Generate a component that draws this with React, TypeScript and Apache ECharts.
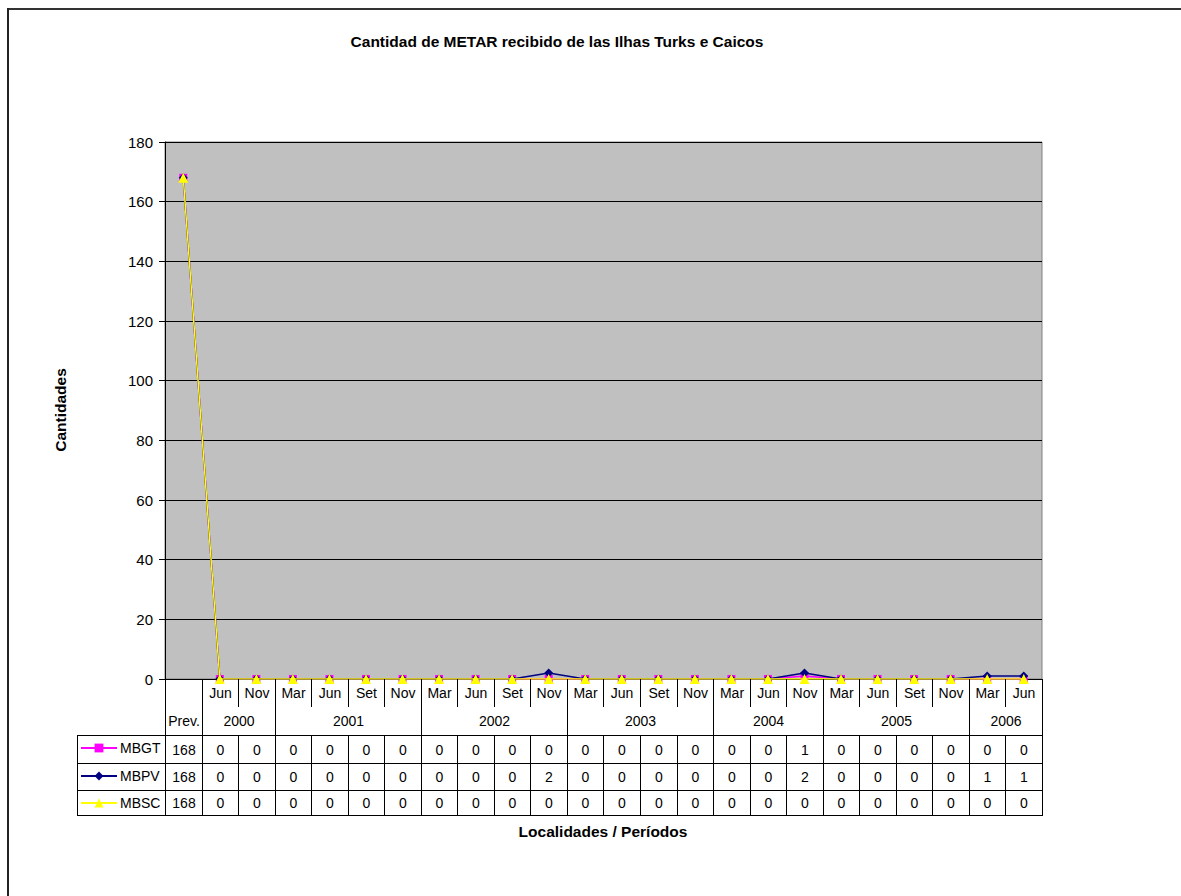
import React, { useEffect, useRef } from "react";
import * as echarts from "echarts";

const months = ["", "Jun", "Nov", "Mar", "Jun", "Set", "Nov", "Mar", "Jun", "Set", "Nov", "Mar", "Jun", "Set", "Nov", "Mar", "Jun", "Nov", "Mar", "Jun", "Set", "Nov", "Mar", "Jun"];
const years = ["Prev.", "2000", "2000", "2001", "2001", "2001", "2001", "2002", "2002", "2002", "2002", "2003", "2003", "2003", "2003", "2004", "2004", "2004", "2005", "2005", "2005", "2005", "2006", "2006"];
const categories = months.map((m, i) => (m ? `${m} ${years[i]}` : years[i]));

const seriesNames = ["MBGT", "MBPV", "MBSC"];
const mbgt = [168, 0, 0, 0, 0, 0, 0, 0, 0, 0, 0, 0, 0, 0, 0, 0, 0, 1, 0, 0, 0, 0, 0, 0];
const mbpv = [168, 0, 0, 0, 0, 0, 0, 0, 0, 0, 2, 0, 0, 0, 0, 0, 0, 2, 0, 0, 0, 0, 1, 1];
const mbsc = [168, 0, 0, 0, 0, 0, 0, 0, 0, 0, 0, 0, 0, 0, 0, 0, 0, 0, 0, 0, 0, 0, 0, 0];
const seriesValues = [mbgt, mbpv, mbsc];
const seriesColors = ["#FF00FF", "#000080", "#FFFF00"];
const seriesSymbols = ["rect", "diamond", "triangle"];
const seriesSymbolSizes = [8, 9, 10];

const FONT = "'Liberation Sans', Arial, sans-serif";

export default function App() {
  const ref = useRef<HTMLDivElement>(null);

  useEffect(() => {
    const chart = echarts.init(ref.current!, null, { renderer: "svg" });
    const rowTops = [735, 763, 790];
    const rowBottom = 815;
    const option: any = {
      animation: false,
      backgroundColor: "#ffffff",
      grid: {
        left: 165,
        top: 142,
        right: 139,
        bottom: 217,
        show: true,
        backgroundColor: "#C0C0C0",
        borderColor: "#808080",
        borderWidth: 1,
      },
      legend: seriesNames.map((name, i) => ({
        data: [name],
        left: 80,
        top: rowTops[i] + 6,
        itemWidth: 36,
        itemHeight: 11,
        itemGap: 0,
        padding: 0,
        selectedMode: false,
        textStyle: { fontSize: 14, color: "#000", fontFamily: FONT, padding: [0, 0, 0, -2] },
      })),
      xAxis: {
        type: "category",
        data: categories,
        boundaryGap: true,
        axisLine: { show: true, lineStyle: { color: "#000", width: 1 } },
        axisTick: { show: false },
        axisLabel: { show: false },
        splitLine: { show: false },
      },
      yAxis: {
        type: "value",
        min: 0,
        max: 180,
        interval: 20,
        axisLine: { show: true, lineStyle: { color: "#000", width: 1 } },
        axisTick: { show: true, inside: false, length: 6, lineStyle: { color: "#000" } },
        axisLabel: { fontSize: 15, color: "#000", fontFamily: FONT, margin: 12 },
        splitLine: { show: true, lineStyle: { color: "#000", width: 1 } },
      },
      series: seriesNames.map((name, i) => ({
        name,
        type: "line",
        data: seriesValues[i],
        symbol: seriesSymbols[i],
        symbolSize: seriesSymbolSizes[i],
        showSymbol: true,
        lineStyle: { color: seriesColors[i], width: 1.5 },
        itemStyle: { color: seriesColors[i], borderWidth: 0 },
        z: 2 + i,
      })),
    };
    chart.setOption(option);

    const c0 = chart.convertToPixel({ xAxisIndex: 0 }, 0) as number;
    const c1 = chart.convertToPixel({ xAxisIndex: 0 }, 1) as number;
    const bw = c1 - c0;
    const base = chart.convertToPixel({ yAxisIndex: 0 }, 0) as number;
    const n = categories.length;
    const bound = (k: number) => Math.round(c0 - bw / 2 + k * bw) + 0.5;
    const monthRowEnd = base + 28;
    const yearRowEnd = rowTops[0];

    const g: any[] = [];
    const line = (x1: number, y1: number, x2: number, y2: number, w = 1, color = "#000") =>
      g.push({ type: "line", silent: true, shape: { x1, y1, x2, y2 }, style: { stroke: color, lineWidth: w }, z: 10 });
    const text = (t: string, x: number, y: number, opts: any = {}) =>
      g.push({
        type: "text",
        silent: true,
        x,
        y,
        rotation: opts.rotation || 0,
        style: {
          text: t,
          align: opts.align || "center",
          verticalAlign: "middle",
          fontSize: opts.fontSize || 14,
          fontWeight: opts.fontWeight || "normal",
          fontFamily: FONT,
          fill: "#000",
        },
        z: 10,
      });

    // outer border (top and left edges visible)
    line(7, 9, 1181, 9, 2, "#333");
    line(8, 8, 8, 896, 2, "#222");

    const rightX = bound(n);
    // horizontal table lines
    line(77.5, rowTops[0] + 0.5, rightX, rowTops[0] + 0.5);
    line(77.5, rowTops[1] + 0.5, rightX, rowTops[1] + 0.5);
    line(77.5, rowTops[2] + 0.5, rightX, rowTops[2] + 0.5);
    line(77.5, rowBottom + 0.5, rightX, rowBottom + 0.5);
    line(77.5, rowTops[0], 77.5, rowBottom + 1);

    // vertical lines
    for (let k = 0; k <= n; k++) {
      const x = bound(k);
      const isGroup = k === 0 || k === n || years[k] !== years[k - 1];
      if (isGroup) {
        line(x, base, x, rowBottom + 1);
      } else {
        line(x, base, x, monthRowEnd);
        line(x, yearRowEnd, x, rowBottom + 1);
      }
    }

    // month labels
    for (let i = 0; i < n; i++) {
      const cx = (bound(i) + bound(i + 1)) / 2;
      if (months[i]) text(months[i], cx, base + 14);
    }
    // year groups
    let start = 0;
    for (let i = 1; i <= n; i++) {
      if (i === n || years[i] !== years[start]) {
        const cx = (bound(start) + bound(i)) / 2;
        text(years[start], cx, base + 42);
        start = i;
      }
    }
    // values
    const rowCenters = [749.5, 777, 803];
    seriesValues.forEach((vals, r) => {
      vals.forEach((v, i) => {
        const cx = (bound(i) + bound(i + 1)) / 2;
        text(String(v), cx, rowCenters[r]);
      });
    });

    // titles
    text("Cantidad de METAR recibido de las Ilhas Turks e Caicos", 557, 41, { fontWeight: "bold", fontSize: 15.5 });
    text("Cantidades", 60, 410, { fontWeight: "bold", fontSize: 15.5, rotation: Math.PI / 2 });
    text("Localidades / Períodos", 603, 831, { fontWeight: "bold", fontSize: 15.5 });

    chart.setOption({ graphic: g });

    return () => chart.dispose();
  }, []);

  return (
    <div
      ref={ref}
      style={{ position: "absolute", left: 0, top: 0, width: 1181, height: 896 }}
    />
  );
}
